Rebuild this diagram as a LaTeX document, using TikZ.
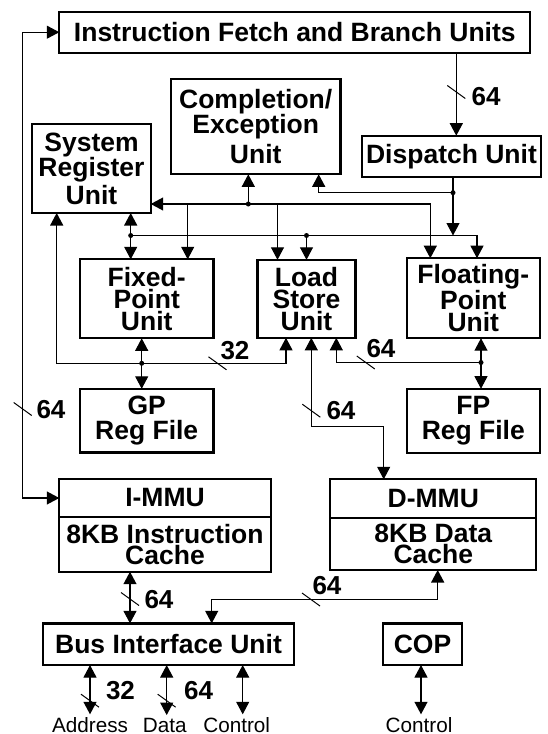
\documentclass[tikz,border=0pt]{standalone}
\usepackage{fontspec}
\setmainfont{Liberation Sans}
\usetikzlibrary{arrows.meta,positioning}

\begin{document}
\begin{tikzpicture}[
    x=1pt, y=-1pt,
    >={Triangle[length=12.5pt,width=13pt]},
    unitbox/.style={rectangle, draw, line width=2.3pt,
                    outer sep=0pt, inner sep=0pt, align=center,
                    font=\bfseries\fontsize{26.5}{22}\selectfont},
    wire/.style={line width=1.1pt},
    slash/.style={line width=1pt},
    buslbl/.style={font=\bfseries\fontsize{26}{26}\selectfont, inner sep=0pt},
    sig/.style={font=\fontsize{20.7}{24}\selectfont, inner sep=0pt, anchor=base}
]
\useasboundingbox (0,0) rectangle (547,734);

\node[unitbox, minimum width=471pt, minimum height=41pt] (ifbu) at (294.8,32.2) {Instruction Fetch and Branch Units};
\node[unitbox, minimum width=169.3pt, minimum height=95pt, font=\bfseries\fontsize{26.5}{25}\selectfont] (cmp) at (255.7,126.8) {Completion/\\Exception\\[5pt]Unit};
\node[unitbox, minimum width=118.4pt, minimum height=89pt, font=\bfseries\fontsize{26.5}{25}\selectfont] (sru) at (91.5,168.5) {System\\Register\\[3pt]Unit};
\node[unitbox, minimum width=179pt, minimum height=41pt] (disp) at (451.5,156.2) {Dispatch Unit};
\node[unitbox, minimum width=133.3pt, minimum height=79pt] (fxu) at (146.7,298.8) {Fixed-\\Point\\Unit};
\node[unitbox, minimum width=98pt, minimum height=78pt] (lsu) at (306.5,298.8) {Load\\Store\\Unit};
\node[unitbox, minimum width=132.7pt, minimum height=80pt] (fpu) at (473.3,298.2) {Floating-\\Point\\Unit};
\node[unitbox, minimum width=133.3pt, minimum height=63.7pt, below=50.5pt of fxu, font=\bfseries\fontsize{26.5}{25}\selectfont] (gpr) {GP\\Reg File};
\node[unitbox, minimum width=132.7pt, minimum height=64pt, below=50.5pt of fpu, font=\bfseries\fontsize{26.5}{25}\selectfont] (fpr) {FP\\Reg File};
\node[unitbox, minimum width=211.4pt, minimum height=37.4pt] (immu) at (165,498) {I-MMU};
\node[unitbox, minimum width=211.4pt, minimum height=55pt, below=0pt of immu, font=\bfseries\fontsize{26.5}{21}\selectfont] (icache) {8KB Instruction\\Cache};
\node[unitbox, minimum width=206pt, minimum height=39pt] (dmmu) at (433.3,498.8) {D-MMU};
\node[unitbox, minimum width=206pt, minimum height=51.7pt, below=0pt of dmmu, font=\bfseries\fontsize{26.5}{21}\selectfont] (dcache) {8KB Data\\Cache};
\node[unitbox, minimum width=250.4pt, minimum height=41.7pt] (biu) at (168.5,644.2) {Bus Interface Unit};
\node[unitbox, minimum width=79pt, minimum height=41.7pt, right=89.3pt of biu] (cop) {COP};

% fetch, dispatch and the loop to the I-MMU
\coordinate (loop) at (22.7,498);
\draw[wire,->] ([xshift=4.8pt]disp.north |- ifbu.south) -- ([xshift=4.8pt]disp.north);
\draw[wire,<->] (ifbu.west) -| (loop) -- (immu.west);

% upper bus
\coordinate (ja) at (248.3,204);
\draw[wire,->] (ja) -- (ja -| sru.east);
\draw[wire,->] (ja) -- (ja |- cmp.south);
\draw[wire,->] (ja) -| ([xshift=41pt]fxu.north);
\draw[wire,->] (ja) -| ([xshift=-29pt]lsu.north);
\draw[wire,->] (ja) -| ([xshift=-43pt]fpu.north);

% dispatch bus
\coordinate (jd) at (453,192.7);
\coordinate (jb) at (453,235.5);
\coordinate (jl) at (130.7,235.5);
\coordinate (jm) at (306.5,235.5);
\draw[wire] (disp.south -| jd) -- (jd);
\draw[wire,->] (jd) -- (jb);
\draw[wire,->] (jd) -| ([xshift=63pt]cmp.south);
\draw[wire,->] (jb) -| ([xshift=3.7pt]fpu.north);
\draw[wire] (jb) -- (jl);
\draw[wire,->] (jl) -- (jl |- sru.south);
\draw[wire,->] (jl) -- (jl |- fxu.north);
\draw[wire,->] (jm) -- (lsu.north);

% register files
\coordinate (jc) at (141.7,363.3);
\coordinate (jf) at (481,362.5);
\draw[wire,->] (jc) -- (jc |- fxu.south);
\draw[wire,->] (jc) -- (jc |- gpr.north);
\draw[wire,->] (jc) -| ([xshift=-34.8pt]sru.south);
\draw[wire,->] (jc) -| ([xshift=-20.5pt]lsu.south);
\draw[wire,->] (jf) -- (jf |- fpu.south);
\draw[wire,->] (jf) -- (jf |- fpr.north);
\draw[wire,->] (jf) -| ([xshift=29.8pt]lsu.south);
\draw[wire,<->] ([xshift=4.8pt]lsu.south) -- ++(0,88.9) -| ([xshift=-49.6pt]dmmu.north);

% caches and bus interface
\draw[wire,<->] ([xshift=-35pt]icache.south) -- ([xshift=-35pt]icache.south |- biu.north);
\draw[wire,<->] ([xshift=4.4pt]dcache.south) -- ++(0,29.5) -| ([xshift=43.2pt]biu.north);

\node[sig] (addr) at (90,732.5) {Address};
\node[sig] (data) at (164.7,732.5) {Data};
\node[sig] (ctl) at (236.7,732.5) {Control};
\node[sig] (copctl) at (419,732.5) {Control};
\draw[wire,<->] (biu.south -| addr) -- ([yshift=3pt]addr.north);
\draw[wire,<->] ([xshift=2pt]data.north |- biu.south) -- ([xshift=2pt,yshift=3pt]data.north);
\draw[wire,<->] ([xshift=6pt]ctl.north |- biu.south) -- ([xshift=6pt,yshift=3pt]ctl.north);
\draw[wire,<->] ([xshift=2pt]copctl.north |- cop.south) -- ([xshift=2pt,yshift=3pt]copctl.north);

% junction dots
\fill (ja) circle (2.5pt);
\fill (jd) circle (2.5pt);
\fill (jl) circle (2.5pt);
\fill (jm) circle (2.5pt);
\fill (jc) circle (2.5pt);
\fill (jf) circle (2.5pt);

% bus widths
\draw[slash] (456.3,92) +(-9,-6.5) -- +(9,6.5);
\draw[slash] (22.7,409) +(-9,-6.5) -- +(9,6.5);
\draw[slash] (217.5,363.3) +(-9,-6.5) -- +(9,6.5);
\draw[slash] (365.8,362.5) +(-9,-6.5) -- +(9,6.5);
\draw[slash] (311.3,410.7) +(-9,-6.5) -- +(9,6.5);
\draw[slash] (130,599) +(-9,-6.5) -- +(9,6.5);
\draw[slash] (311,599.5) +(-9,-6.5) -- +(9,6.5);
\draw[slash] (90,700.7) +(-9,-6.5) -- +(9,6.5);
\draw[slash] (166.7,700.7) +(-9,-6.5) -- +(9,6.5);
\node[buslbl] (w1) at (486,96.7) {64};
\node[buslbl] (w2) at (51,410) {64};
\node[buslbl] (w3) at (235,351) {32};
\node[buslbl] (w4) at (381,349) {64};
\node[buslbl] (w5) at (341,411) {64};
\node[buslbl] (w6) at (159,600) {64};
\node[buslbl] (w7) at (327,585.3) {64};
\node[buslbl] (w8) at (120.5,691) {32};
\node[buslbl] (w9) at (198.7,691) {64};
\end{tikzpicture}
\end{document}
